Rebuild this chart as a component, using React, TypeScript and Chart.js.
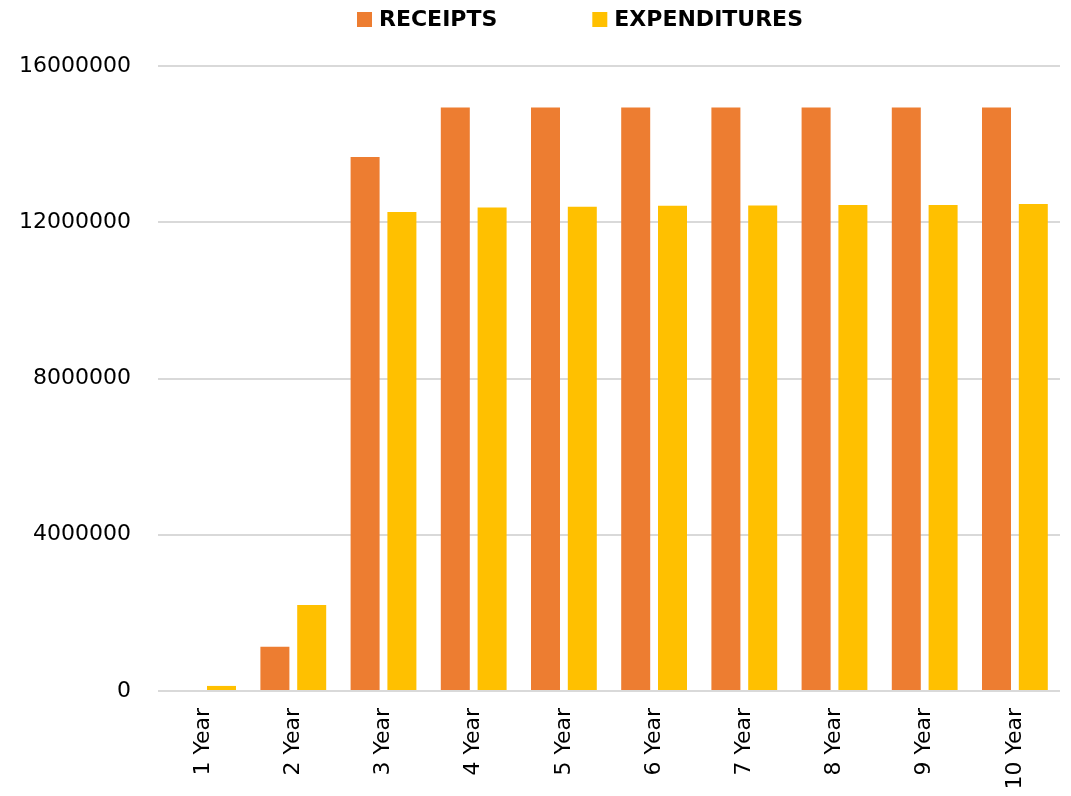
import React, { useEffect, useRef } from "react";
import { Chart, registerables } from "chart.js";

Chart.register(...registerables);

const categories = ["1 Year", "2 Year", "3 Year", "4 Year", "5 Year", "6 Year", "7 Year", "8 Year", "9 Year", "10 Year"];
const receipts = [0, 1130000, 13670000, 14940000, 14940000, 14940000, 14940000, 14940000, 14940000, 14940000];
const expenditures = [130000, 2200000, 12260000, 12380000, 12400000, 12420000, 12430000, 12440000, 12440000, 12470000];
const yTicks = [0, 4000000, 8000000, 12000000, 16000000];
const seriesNames = ["RECEIPTS", "EXPENDITURES"];
const seriesColors = ["#ED7D31", "#FFC000"];

const FONT = "'DejaVu Sans', Verdana, sans-serif";

const topLegend = {
  id: "topLegend",
  afterDraw(chart: any) {
    const ctx = chart.ctx;
    const box = 15;
    const boxGap = 7;
    const itemGap = 95;
    const centerX = 580;
    const centerY = 19.5;
    ctx.save();
    ctx.font = `bold 22px ${FONT}`;
    const items = chart.data.datasets.map((d: any) => ({
      label: d.label,
      color: d.backgroundColor,
      w: ctx.measureText(d.label).width,
    }));
    let total = 0;
    items.forEach((it: any, i: number) => {
      total += box + boxGap + it.w + (i > 0 ? itemGap : 0);
    });
    let x = centerX - total / 2;
    ctx.textBaseline = "middle";
    ctx.textAlign = "left";
    items.forEach((it: any) => {
      ctx.fillStyle = it.color;
      ctx.fillRect(x, centerY - box / 2, box, box);
      x += box + boxGap;
      ctx.fillStyle = "#000000";
      ctx.fillText(it.label, x, centerY + 1);
      x += it.w + itemGap;
    });
    ctx.restore();
  },
};

export default function App() {
  const ref = useRef<HTMLCanvasElement | null>(null);

  useEffect(() => {
    if (!ref.current) return;
    const chart = new Chart(ref.current, {
      type: "bar",
      data: {
        labels: categories,
        datasets: [
          {
            label: seriesNames[0],
            data: receipts,
            backgroundColor: seriesColors[0],
            borderWidth: 0,
            categoryPercentage: 0.816,
            barPercentage: 0.788,
          },
          {
            label: seriesNames[1],
            data: expenditures,
            backgroundColor: seriesColors[1],
            borderWidth: 0,
            categoryPercentage: 0.816,
            barPercentage: 0.788,
          },
        ],
      },
      options: {
        responsive: false,
        maintainAspectRatio: false,
        animation: false,
        layout: { padding: { top: 66, left: 19, right: 11, bottom: 4 } },
        plugins: {
          legend: { display: false },
          tooltip: { enabled: false },
          title: { display: false },
        },
        scales: {
          x: {
            grid: { display: false, drawTicks: false },
            border: { display: false },
            afterFit: (axis: any) => {
              axis.paddingLeft = 0;
              axis.paddingRight = 0;
              axis.height = 101;
            },
            ticks: {
              minRotation: 90,
              maxRotation: 90,
              padding: 17,
              color: "#000000",
              font: { family: FONT, size: 22 },
              autoSkip: false,
            },
          },
          y: {
            min: 0,
            max: 16000000,
            afterBuildTicks: (axis: any) => {
              axis.ticks = yTicks.map((v) => ({ value: v }));
            },
            afterFit: (axis: any) => {
              axis.width = 139;
            },
            grid: { color: "#D9D9D9", lineWidth: 2, drawTicks: false },
            border: { display: false },
            ticks: {
              padding: 27,
              color: "#000000",
              font: { family: FONT, size: 22 },
              callback: (v: any) => String(v),
            },
          },
        },
      },
      plugins: [topLegend],
    });
    return () => chart.destroy();
  }, []);

  return (
    <div style={{ position: "absolute", left: 0, top: 0, width: 1071, height: 796, background: "#ffffff" }}>
      <canvas ref={ref} width={1071} height={796} style={{ display: "block", width: 1071, height: 796 }} />
    </div>
  );
}
